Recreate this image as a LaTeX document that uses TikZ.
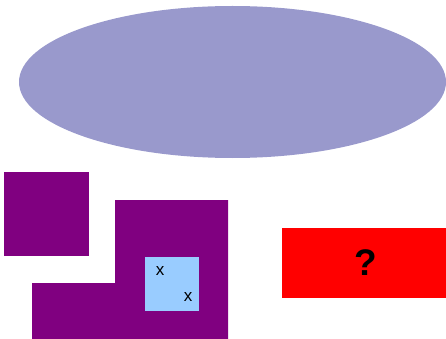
\documentclass[tikz,border=0pt]{standalone}
\usepackage{fontspec}
\setmainfont{Liberation Sans}
\usetikzlibrary{shapes.geometric}
\definecolor{blobblue}{HTML}{9999CC}
\definecolor{tilepurple}{HTML}{800080}
\definecolor{cellblue}{HTML}{99CCFF}
\definecolor{boxred}{HTML}{FF0000}
\tikzset{
  blob/.style={ellipse, fill=blobblue, inner sep=0pt, minimum width=427pt, minimum height=152pt},
  tile/.style={rectangle, fill=tilepurple, inner sep=0pt},
  cell/.style={rectangle, fill=cellblue, inner sep=0pt, minimum size=54pt},
  xmark/.style={font=\fontsize{17}{19}\selectfont, inner sep=0pt},
  query/.style={rectangle, fill=boxred, inner sep=0pt, minimum width=164pt, minimum height=70pt,
                font=\fontsize{37}{40}\selectfont\bfseries},
}
\begin{document}
\begin{tikzpicture}[x=1pt, y=-1pt]
  \useasboundingbox (0,0) rectangle (446,339);
  \node[blob] (cloud) at (232.5,82) {};
  \node[tile, minimum width=85pt, minimum height=84pt] (solo) at (46.5,214) {};
  % L-shaped block
  \fill[tilepurple] (115,200) -- (228,200) -- (228,339) -- (32,339) -- (32,283) -- (115,283) -- cycle;
  \node[cell] (hole) at (172,284) {};
  \node[xmark] (xa) at (160,271) {x};
  \node[xmark] (xb) at (188,297) {x};
  \node[query] (ask) at (364,263) {};
  \node[query, fill=none, minimum width=0pt, minimum height=0pt] (asktext) at (366,263) {?};
\end{tikzpicture}
\end{document}
